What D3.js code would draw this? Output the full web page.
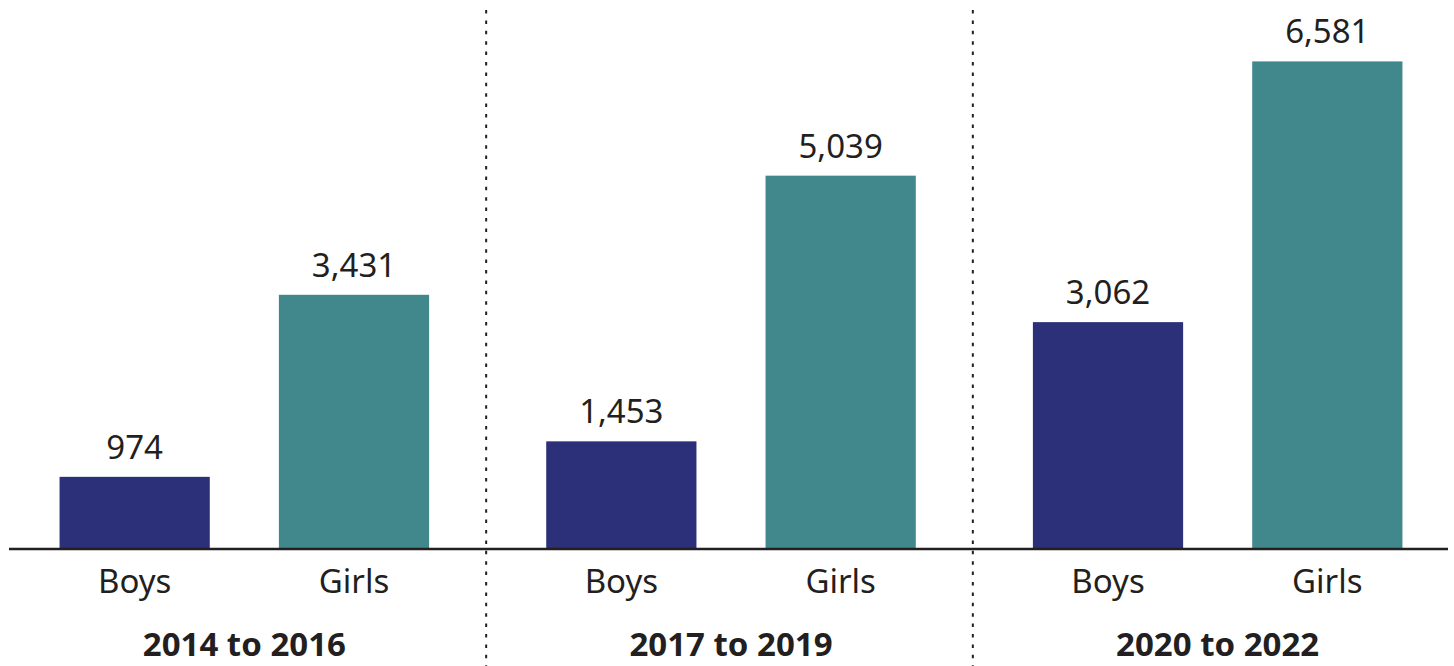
<!DOCTYPE html>
<html>
<head>
<meta charset="utf-8">
<script src="https://cdn.jsdelivr.net/npm/d3@7"></script>
<style>
  body { margin: 0; background: #fff; }
  svg { display: block; font-family: "Source Sans Pro", "Noto Sans", sans-serif; }
</style>
</head>
<body>
<svg id="chart" width="1454" height="666"></svg>
<script>
// Data
const periods = ["2014 to 2016", "2017 to 2019", "2020 to 2022"];
const sexes = ["Boys", "Girls"];
const boys = [974, 1453, 3062];
const girls = [3431, 5039, 6581];

const colors = { Boys: "#2b3079", Girls: "#40888c" };
const textColor = "#231f20";

const rows = periods.map((p, i) => ({ period: p, Boys: boys[i], Girls: girls[i] }));

const svg = d3.select("#chart");
const baseline = 549;

// Scales
const x0 = d3.scaleBand()
    .domain(periods)
    .range([1, 1461]);

const x1 = d3.scaleBand()
    .domain(sexes)
    .range([0, x0.bandwidth()])
    .paddingInner(0.315)
    .paddingOuter(0.267);

const y = d3.scaleLinear()
    .domain([0, 6600])
    .range([baseline, 60]);

// Group dividers
svg.selectAll(".divider")
    .data(periods.slice(1))
    .enter()
    .append("line")
    .attr("class", "divider")
    .attr("x1", d => x0(d) - 1.5)
    .attr("x2", d => x0(d) - 1.5)
    .attr("y1", 10)
    .attr("y2", 666)
    .attr("stroke", textColor)
    .attr("stroke-width", 2)
    .attr("stroke-dasharray", "3.5 6.9");

const groups = svg.selectAll(".group")
    .data(rows)
    .enter()
    .append("g")
    .attr("class", "group")
    .attr("transform", d => `translate(${x0(d.period)},0)`);

// Bars
groups.selectAll("rect")
    .data(d => sexes.map(s => ({ sex: s, value: d[s] })))
    .enter()
    .append("rect")
    .attr("x", d => x1(d.sex))
    .attr("y", d => y(d.value))
    .attr("width", x1.bandwidth())
    .attr("height", d => baseline - y(d.value))
    .attr("fill", d => colors[d.sex]);

// Value labels
groups.selectAll(".value")
    .data(d => sexes.map(s => ({ sex: s, value: d[s] })))
    .enter()
    .append("text")
    .attr("class", "value")
    .attr("x", d => x1(d.sex) + x1.bandwidth() / 2)
    .attr("y", d => y(d.value) - 18)
    .attr("text-anchor", "middle")
    .attr("font-size", 33)
    .attr("fill", textColor)
    .text(d => d3.format(",")(d.value));

// Category labels
groups.selectAll(".sex")
    .data(sexes)
    .enter()
    .append("text")
    .attr("class", "sex")
    .attr("x", d => x1(d) + x1.bandwidth() / 2)
    .attr("y", 593)
    .attr("text-anchor", "middle")
    .attr("font-size", 33)
    .attr("fill", textColor)
    .text(d => d);

// Period labels
groups.append("text")
    .attr("x", x0.bandwidth() / 2)
    .attr("y", 656)
    .attr("text-anchor", "middle")
    .attr("font-size", 33)
    .attr("font-weight", "bold")
    .attr("fill", textColor)
    .text(d => d.period);

// Baseline
svg.append("line")
    .attr("x1", 9)
    .attr("x2", 1448)
    .attr("y1", baseline)
    .attr("y2", baseline)
    .attr("stroke", textColor)
    .attr("stroke-width", 2.5);
</script>
</body>
</html>
